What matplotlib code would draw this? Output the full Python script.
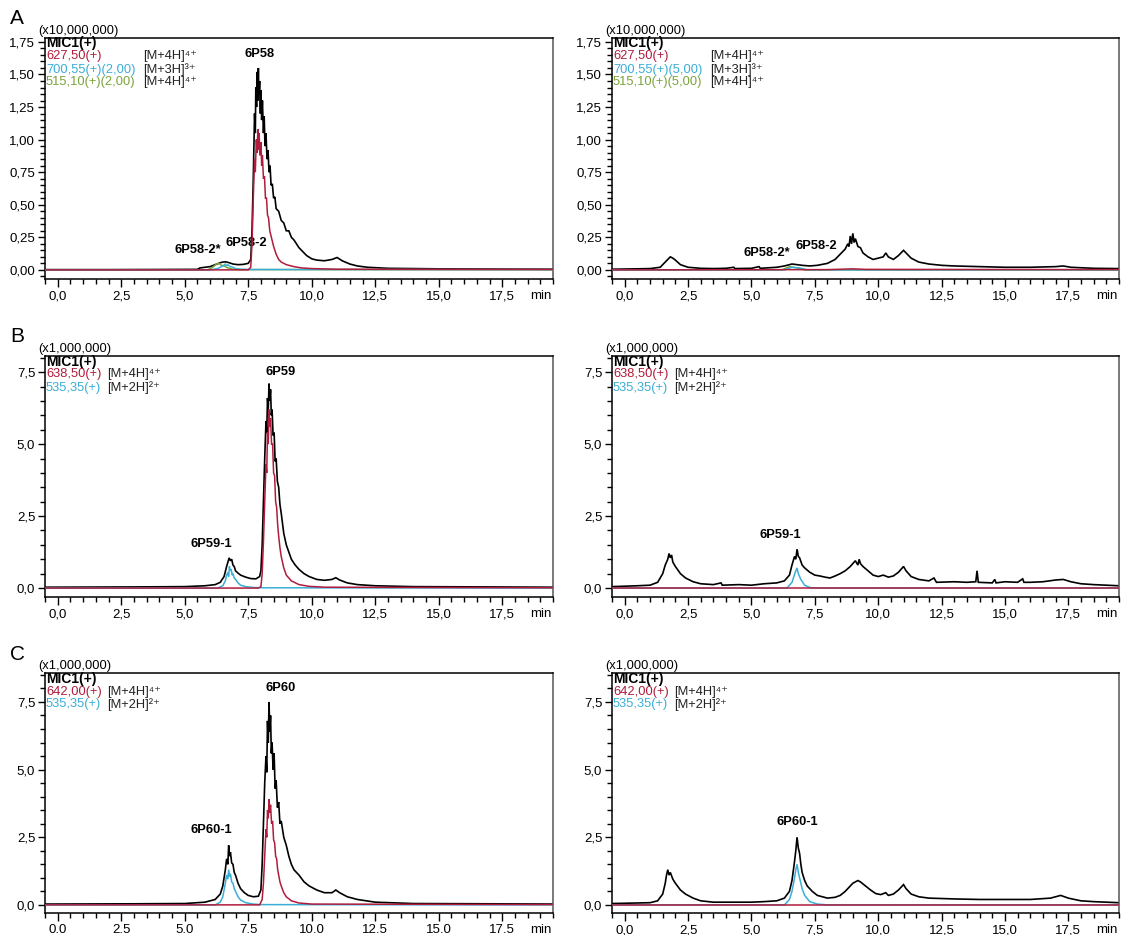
import matplotlib
matplotlib.use("Agg")
import matplotlib.pyplot as plt
from matplotlib.ticker import MultipleLocator, FuncFormatter

plt.rcParams['font.family'] = ['Liberation Sans', 'DejaVu Sans']

RED = '#B01C3C'
CYAN = '#3AAED6'
GREEN = '#7BA33A'

# ---------------- data (retention time [min], intensity in panel units) -------------
A_L_MIC = [(-0.5,0.002),(2.0,0.002),(4.0,0.003),(5.5,0.004),(5.6,0.015),(5.8,0.02),(6.0,0.025),(6.2,0.04),(6.4,0.055),(6.5,0.06),(6.6,0.062),(6.7,0.058),(6.9,0.045),(7.1,0.04),(7.3,0.042),(7.5,0.05),(7.6,0.08),(7.65,0.3),(7.7,0.7),(7.72,0.9),(7.75,1.2),(7.78,1.05),(7.8,1.4),(7.83,1.25),(7.86,1.52),(7.88,1.3),(7.9,1.55),(7.92,1.35),(7.95,1.45),(7.98,1.2),(8.0,1.38),(8.03,1.15),(8.06,1.3),(8.1,1.05),(8.13,1.18),(8.16,0.95),(8.2,1.05),(8.24,0.85),(8.28,0.92),(8.32,0.75),(8.36,0.8),(8.4,0.65),(8.45,0.66),(8.5,0.55),(8.55,0.56),(8.6,0.47),(8.7,0.45),(8.8,0.38),(8.9,0.36),(9.0,0.3),(9.1,0.3),(9.2,0.25),(9.3,0.23),(9.4,0.2),(9.5,0.17),(9.6,0.15),(9.8,0.11),(10.0,0.085),(10.2,0.075),(10.5,0.07),(10.8,0.08),(11.0,0.095),(11.2,0.07),(11.5,0.045),(11.8,0.03),(12.2,0.02),(13,0.012),(15,0.008),(17.5,0.006),(19.5,0.005)]
A_L_627 = [(-0.5,0),(7.5,0.0),(7.6,0.02),(7.65,0.2),(7.7,0.55),(7.75,0.85),(7.78,0.75),(7.82,1.0),(7.85,0.9),(7.88,1.08),(7.9,0.92),(7.93,1.05),(7.96,0.88),(8.0,0.98),(8.03,0.8),(8.06,0.88),(8.1,0.7),(8.14,0.72),(8.18,0.55),(8.22,0.55),(8.26,0.42),(8.3,0.4),(8.35,0.3),(8.4,0.26),(8.5,0.18),(8.6,0.12),(8.7,0.08),(8.8,0.06),(9.0,0.04),(9.3,0.025),(9.6,0.015),(10,0.01),(11,0.005),(19.5,0.003)]
A_L_700 = [(-0.5,0),(6.0,0.0),(6.3,0.01),(6.5,0.03),(6.6,0.045),(6.65,0.03),(6.7,0.04),(6.8,0.025),(6.9,0.02),(7.0,0.01),(7.2,0.005),(7.5,0.003),(19.5,0.002)]
A_L_515 = [(-0.5,0),(5.9,0),(6.1,0.02),(6.25,0.045),(6.35,0.05),(6.45,0.035),(6.55,0.03),(6.7,0.015),(6.9,0.005),(7.2,0.002),(19.5,0.001)]

A_R_MIC = [(-0.5,0.005),(0.5,0.008),(1.0,0.01),(1.4,0.02),(1.6,0.06),(1.7,0.08),(1.8,0.1),(1.9,0.09),(2.0,0.075),(2.2,0.04),(2.5,0.02),(3.0,0.012),(3.5,0.01),(4.0,0.012),(4.3,0.02),(4.35,0.01),(5.0,0.012),(5.3,0.025),(5.35,0.012),(6.0,0.02),(6.3,0.03),(6.6,0.045),(6.8,0.04),(7.0,0.035),(7.3,0.03),(7.6,0.035),(8.0,0.05),(8.3,0.08),(8.5,0.12),(8.7,0.16),(8.8,0.2),(8.85,0.18),(8.9,0.26),(8.95,0.2),(9.0,0.28),(9.05,0.21),(9.1,0.24),(9.2,0.18),(9.3,0.17),(9.4,0.13),(9.6,0.1),(9.8,0.08),(10.0,0.09),(10.2,0.1),(10.3,0.13),(10.4,0.1),(10.6,0.08),(10.8,0.11),(11.0,0.15),(11.1,0.13),(11.3,0.09),(11.6,0.06),(12.0,0.045),(12.5,0.035),(13.0,0.03),(14.0,0.025),(15.0,0.02),(16.0,0.02),(17.0,0.025),(17.3,0.03),(17.6,0.02),(18.5,0.012),(19.5,0.01)]
A_R_627 = [(-0.5,0.0),(8.0,0.002),(8.5,0.005),(9.0,0.008),(9.5,0.004),(19.5,0.002)]
A_R_700 = [(-0.5,0),(6.3,0),(6.6,0.02),(6.9,0.015),(7.2,0),(19.5,0)]
A_R_515 = [(-0.5,0),(6.2,0),(6.5,0.025),(6.8,0.015),(7.1,0),(19.5,0)]

B_L_MIC = [(-0.5,0.03),(3.0,0.04),(5.0,0.05),(5.8,0.08),(6.2,0.12),(6.4,0.2),(6.55,0.4),(6.65,0.75),(6.7,0.9),(6.75,1.05),(6.8,0.95),(6.85,1.0),(6.9,0.8),(6.95,0.75),(7.0,0.6),(7.1,0.52),(7.2,0.45),(7.4,0.38),(7.6,0.33),(7.8,0.32),(7.95,0.4),(8.0,0.6),(8.05,1.5),(8.1,3.0),(8.15,4.5),(8.2,5.8),(8.23,5.4),(8.26,6.6),(8.29,6.2),(8.32,7.1),(8.35,6.5),(8.38,6.9),(8.41,6.0),(8.44,6.2),(8.48,5.3),(8.52,5.4),(8.56,4.4),(8.6,4.5),(8.65,3.7),(8.7,3.5),(8.75,2.9),(8.8,2.6),(8.9,1.9),(9.0,1.5),(9.1,1.25),(9.2,1.0),(9.35,0.8),(9.5,0.65),(9.7,0.5),(9.9,0.4),(10.2,0.3),(10.5,0.27),(10.8,0.3),(10.95,0.36),(11.1,0.28),(11.4,0.18),(11.8,0.12),(12.5,0.08),(14,0.05),(17,0.04),(19.5,0.03)]
B_L_638 = [(-0.5,0),(7.9,0),(8.0,0.05),(8.05,0.5),(8.1,1.6),(8.15,3.0),(8.2,4.3),(8.23,4.0),(8.26,5.4),(8.29,5.0),(8.32,6.2),(8.35,5.6),(8.38,5.9),(8.42,5.0),(8.46,5.0),(8.5,4.0),(8.54,3.9),(8.58,3.0),(8.62,2.8),(8.66,2.2),(8.7,1.8),(8.75,1.4),(8.8,1.1),(8.9,0.7),(9.0,0.45),(9.2,0.25),(9.5,0.12),(9.9,0.06),(10.5,0.03),(19.5,0.01)]
B_L_535 = [(-0.5,0),(6.3,0.0),(6.5,0.08),(6.6,0.25),(6.65,0.45),(6.7,0.55),(6.73,0.4),(6.76,0.75),(6.8,0.6),(6.83,0.65),(6.87,0.45),(6.9,0.5),(6.95,0.35),(7.0,0.3),(7.1,0.18),(7.2,0.1),(7.4,0.05),(7.7,0.02),(8.0,0.01),(19.5,0.0)]

B_R_MIC = [(-0.5,0.05),(0.5,0.08),(1.0,0.1),(1.3,0.2),(1.5,0.5),(1.6,0.8),(1.7,1.0),(1.75,1.2),(1.8,1.05),(1.85,1.15),(1.9,0.9),(2.0,0.75),(2.2,0.5),(2.4,0.35),(2.7,0.22),(3.0,0.15),(3.5,0.12),(3.8,0.18),(3.85,0.1),(4.5,0.12),(5.0,0.1),(5.5,0.15),(6.0,0.18),(6.3,0.25),(6.5,0.45),(6.6,0.8),(6.7,1.1),(6.75,1.0),(6.8,1.35),(6.85,1.1),(6.9,1.05),(7.0,0.8),(7.1,0.7),(7.3,0.55),(7.5,0.45),(7.7,0.42),(7.9,0.38),(8.1,0.35),(8.3,0.42),(8.5,0.5),(8.7,0.6),(8.9,0.75),(9.0,0.85),(9.1,0.95),(9.2,0.8),(9.25,1.0),(9.3,0.85),(9.4,0.75),(9.6,0.6),(9.8,0.45),(10.0,0.4),(10.2,0.45),(10.4,0.38),(10.6,0.42),(10.8,0.55),(11.0,0.75),(11.1,0.6),(11.3,0.4),(11.6,0.3),(12.0,0.25),(12.2,0.35),(12.3,0.2),(13.0,0.22),(13.5,0.2),(13.85,0.22),(13.9,0.6),(13.95,0.2),(14.5,0.18),(14.6,0.3),(14.65,0.18),(15.0,0.22),(15.5,0.2),(15.7,0.32),(15.75,0.2),(16.0,0.2),(16.5,0.22),(17.0,0.28),(17.3,0.3),(17.6,0.22),(18.0,0.15),(18.5,0.12),(19.0,0.1),(19.5,0.08)]
B_R_638 = [(-0.5,0.01),(19.5,0.01)]
B_R_535 = [(-0.5,0),(6.4,0),(6.6,0.2),(6.75,0.6),(6.8,0.7),(6.85,0.5),(6.95,0.3),(7.1,0.1),(7.3,0.02),(7.6,0),(19.5,0)]

C_L_MIC = [(-0.5,0.03),(3.0,0.04),(5.0,0.05),(5.8,0.1),(6.2,0.2),(6.4,0.4),(6.5,0.7),(6.6,1.3),(6.65,1.7),(6.7,1.5),(6.73,2.2),(6.77,1.8),(6.8,1.95),(6.85,1.55),(6.9,1.5),(6.95,1.2),(7.0,1.1),(7.1,0.8),(7.2,0.6),(7.35,0.45),(7.5,0.35),(7.7,0.3),(7.9,0.32),(8.0,0.55),(8.05,1.5),(8.1,3.0),(8.15,4.5),(8.2,5.5),(8.23,4.9),(8.26,6.8),(8.29,6.0),(8.32,7.5),(8.35,6.4),(8.38,7.0),(8.41,5.6),(8.44,6.0),(8.48,5.0),(8.52,5.6),(8.56,4.3),(8.6,4.6),(8.65,3.6),(8.7,3.8),(8.75,3.0),(8.8,3.1),(8.9,2.5),(9.0,2.2),(9.1,1.8),(9.2,1.5),(9.3,1.3),(9.5,1.1),(9.7,0.85),(9.9,0.7),(10.2,0.55),(10.5,0.45),(10.8,0.45),(10.95,0.55),(11.1,0.45),(11.4,0.3),(11.8,0.2),(12.5,0.1),(14,0.05),(17,0.04),(19.5,0.03)]
C_L_642 = [(-0.5,0),(7.95,0),(8.05,0.2),(8.1,0.8),(8.15,1.8),(8.2,2.8),(8.23,2.5),(8.26,3.5),(8.29,3.2),(8.32,3.9),(8.35,3.4),(8.38,3.7),(8.42,3.0),(8.46,3.1),(8.5,2.4),(8.54,2.3),(8.58,1.8),(8.62,1.7),(8.66,1.3),(8.7,1.1),(8.75,0.85),(8.8,0.7),(8.9,0.45),(9.0,0.3),(9.2,0.15),(9.5,0.07),(10,0.03),(19.5,0.01)]
C_L_535 = [(-0.5,0),(6.2,0),(6.4,0.1),(6.5,0.3),(6.6,0.8),(6.65,1.1),(6.7,0.95),(6.73,1.3),(6.77,1.05),(6.8,1.15),(6.85,0.85),(6.9,0.8),(6.95,0.6),(7.0,0.5),(7.1,0.3),(7.2,0.18),(7.4,0.08),(7.7,0.03),(8.0,0.01),(19.5,0)]

C_R_MIC = [(-0.5,0.05),(0.5,0.07),(1.0,0.08),(1.3,0.15),(1.5,0.4),(1.6,0.8),(1.65,1.1),(1.7,1.3),(1.75,1.1),(1.8,1.2),(1.9,0.95),(2.0,0.8),(2.2,0.55),(2.4,0.4),(2.7,0.25),(3.0,0.15),(3.5,0.1),(4.0,0.1),(5.0,0.1),(5.5,0.12),(6.0,0.15),(6.3,0.25),(6.5,0.5),(6.6,0.9),(6.7,1.6),(6.75,2.0),(6.8,2.5),(6.85,2.1),(6.9,1.9),(6.95,1.5),(7.0,1.2),(7.1,0.9),(7.2,0.7),(7.4,0.5),(7.6,0.35),(7.8,0.3),(8.0,0.25),(8.3,0.28),(8.5,0.35),(8.7,0.5),(8.9,0.7),(9.0,0.8),(9.1,0.85),(9.2,0.9),(9.3,0.85),(9.5,0.7),(9.7,0.55),(9.9,0.42),(10.1,0.38),(10.3,0.45),(10.4,0.35),(10.6,0.4),(10.8,0.55),(11.0,0.75),(11.1,0.6),(11.3,0.4),(11.6,0.3),(12.0,0.25),(13.0,0.22),(14.0,0.2),(15.0,0.2),(16.0,0.2),(16.8,0.25),(17.2,0.35),(17.5,0.25),(18.0,0.15),(18.5,0.12),(19.0,0.1),(19.5,0.08)]
C_R_642 = [(-0.5,0.01),(19.5,0.01)]
C_R_535 = [(-0.5,0),(6.3,0),(6.5,0.2),(6.6,0.5),(6.7,1.0),(6.75,1.3),(6.8,1.5),(6.85,1.2),(6.9,1.0),(7.0,0.6),(7.1,0.35),(7.3,0.12),(7.6,0.03),(8.0,0),(19.5,0)]

X_TICKS = [0.0, 2.5, 5.0, 7.5, 10.0, 12.5, 15.0, 17.5]

# ---------------- layout helpers ----------------
W, H = 1121, 935
fig = plt.figure(figsize=(W/100, H/100), dpi=100)
FS = 9.3

def frac(x, y):
    return x / W, 1 - y / H

def make_ax(left, right, top, bottom):
    return fig.add_axes([left / W, 1 - bottom / H, (right - left) / W, (bottom - top) / H])

rows = [(38, 279), (356, 597), (673, 913)]
cols = [(45, 553), (612, 1119)]

def comma(fmt):
    return FuncFormatter(lambda v, p: fmt.format(v).replace('.', ','))

def style(ax, ylim, ymaj, ymin, yfmt, xdot=False):
    ax.set_xlim(-0.5, 19.5)
    ax.set_ylim(*ylim)
    ax.xaxis.set_major_locator(plt.FixedLocator(X_TICKS))
    ax.xaxis.set_minor_locator(MultipleLocator(0.5))
    ax.yaxis.set_major_locator(MultipleLocator(ymaj))
    ax.yaxis.set_minor_locator(MultipleLocator(ymin))
    if xdot:
        ax.xaxis.set_major_formatter(FuncFormatter(lambda v, p: f"{v:.1f}"))
    else:
        ax.xaxis.set_major_formatter(comma("{:.1f}"))
    ax.yaxis.set_major_formatter(comma(yfmt))
    ax.tick_params(axis='both', which='major', direction='out', length=6, width=1.0,
                   labelsize=9.5, pad=2)
    ax.tick_params(axis='both', which='minor', direction='out', length=3.5, width=1.0)
    ax.tick_params(axis='y', which='major', length=5)
    for s in ax.spines.values():
        s.set_linewidth(1.1)
        s.set_color('black')
    ax.spines['right'].set_color('#555555')

def trace(ax, data, color, lw=1.2, z=2):
    t = [p[0] for p in data]
    v = [p[1] for p in data]
    ax.plot(t, v, color=color, lw=lw, zorder=z, solid_joinstyle='miter')

def legend(col_left, top, entries, col2_dx):
    ys = [top + 5.5, top + 18.5, top + 31.5, top + 44.5]
    x, y = frac(col_left + 1, ys[0])
    fig.text(x, y, "MIC1(+)", fontsize=10, fontweight='bold', va='center', ha='left')
    for i, (lab, color, ion) in enumerate(entries):
        x, y = frac(col_left + 1, ys[i + 1])
        fig.text(x, y, lab, fontsize=FS, color=color, va='center', ha='left')
        x2, _ = frac(col_left + col2_dx, ys[i + 1])
        fig.text(x2, y, ion, fontsize=FS, color='#222222', va='center', ha='left')

SUP = {'2': '\u00b2', '3': '\u00b3', '4': '\u2074', '+': '\u207a'}

def ion(base, charge):
    return base + ''.join(SUP[c] for c in charge)

# ---------------- panel A ----------------
top, bot = rows[0]
axAL = make_ax(cols[0][0], cols[0][1], top, bot)
axAR = make_ax(cols[1][0], cols[1][1], top, bot)
for ax, mic, r, c, g in [(axAL, A_L_MIC, A_L_627, A_L_700, A_L_515),
                         (axAR, A_R_MIC, A_R_627, A_R_700, A_R_515)]:
    trace(ax, mic, 'black', 1.2, 2)
    trace(ax, g, GREEN, 1.1, 3)
    trace(ax, c, CYAN, 1.1, 4)
    trace(ax, r, RED, 1.1, 5)
    style(ax, (-0.07, 1.78), 0.25, 0.05, "{:.2f}")

axAL.text(7.95, 1.66, "6P58", fontsize=FS, fontweight='bold', ha='center', va='center')
axAL.text(5.5, 0.155, "6P58-2*", fontsize=FS, fontweight='bold', ha='center', va='center')
axAL.text(7.43, 0.21, "6P58-2", fontsize=FS, fontweight='bold', ha='center', va='center')
axAR.text(5.6, 0.13, "6P58-2*", fontsize=FS, fontweight='bold', ha='center', va='center')
axAR.text(7.57, 0.18, "6P58-2", fontsize=FS, fontweight='bold', ha='center', va='center')

for cl, cap in [(cols[0][0], "2,00"), (cols[1][0], "5,00")]:
    legend(cl, top, [("627,50(+)", RED, ion("[M+4H]", "4+")),
                     (f"700,55(+)({cap})", CYAN, ion("[M+3H]", "3+")),
                     (f"515,10(+)({cap})", GREEN, ion("[M+4H]", "4+"))], 98)
    x, y = frac(cl - 7, top - 7)
    fig.text(x, y, "(x10,000,000)", fontsize=FS, va='center', ha='left')

# ---------------- panel B ----------------
top, bot = rows[1]
axBL = make_ax(cols[0][0], cols[0][1], top, bot)
axBR = make_ax(cols[1][0], cols[1][1], top, bot)
for ax, mic, r, c in [(axBL, B_L_MIC, B_L_638, B_L_535), (axBR, B_R_MIC, B_R_638, B_R_535)]:
    trace(ax, mic, 'black', 1.2, 2)
    trace(ax, c, CYAN, 1.1, 4)
    trace(ax, r, RED, 1.1, 5)
    style(ax, (-0.31, 8.06), 2.5, 0.5, "{:.1f}")
axBL.text(8.77, 7.5, "6P59", fontsize=FS, fontweight='bold', ha='center', va='center')
axBL.text(6.05, 1.53, "6P59-1", fontsize=FS, fontweight='bold', ha='center', va='center')
axBR.text(6.15, 1.85, "6P59-1", fontsize=FS, fontweight='bold', ha='center', va='center')
for cl in (cols[0][0], cols[1][0]):
    legend(cl, top, [("638,50(+)", RED, ion("[M+4H]", "4+")),
                     ("535,35(+)", CYAN, ion("[M+2H]", "2+"))], 62)
    x, y = frac(cl - 7, top - 7)
    fig.text(x, y, "(x1,000,000)", fontsize=FS, va='center', ha='left')

# ---------------- panel C ----------------
top, bot = rows[2]
axCL = make_ax(cols[0][0], cols[0][1], top, bot)
axCR = make_ax(cols[1][0], cols[1][1], top, bot)
for ax, mic, r, c, xd in [(axCL, C_L_MIC, C_L_642, C_L_535, True),
                          (axCR, C_R_MIC, C_R_642, C_R_535, False)]:
    trace(ax, mic, 'black', 1.2, 2)
    trace(ax, c, CYAN, 1.1, 4)
    trace(ax, r, RED, 1.1, 5)
    style(ax, (-0.3, 8.57), 2.5, 0.5, "{:.1f}", xdot=xd)
axCL.text(8.77, 8.0, "6P60", fontsize=FS, fontweight='bold', ha='center', va='center')
axCL.text(6.05, 2.77, "6P60-1", fontsize=FS, fontweight='bold', ha='center', va='center')
axCR.text(6.82, 3.06, "6P60-1", fontsize=FS, fontweight='bold', ha='center', va='center')
for cl in (cols[0][0], cols[1][0]):
    legend(cl, top, [("642,00(+)", RED, ion("[M+4H]", "4+")),
                     ("535,35(+)", CYAN, ion("[M+2H]", "2+"))], 62)
    x, y = frac(cl - 7, top - 7)
    fig.text(x, y, "(x1,000,000)", fontsize=FS, va='center', ha='left')

# ---------------- "min" labels and panel letters ----------------
for (t, b) in rows:
    for xm in (541, 1107):
        x, y = frac(xm, b + 17)
        fig.text(x, y, "min", fontsize=9.5, ha='center', va='center')

for letter, yy in [("A", 18), ("B", 337), ("C", 654)]:
    x, y = frac(10, yy)
    fig.text(x, y, letter, fontsize=15, ha='left', va='center')

fig.savefig("out.png", dpi=100)
